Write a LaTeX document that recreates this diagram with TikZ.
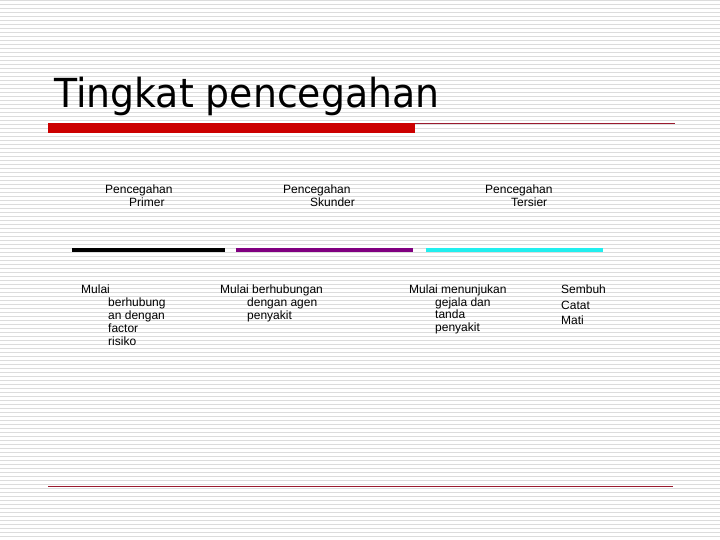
\documentclass[tikz,border=0pt]{standalone}
\usepackage{fontspec}
\setmainfont{Liberation Sans}
\newfontfamily\titlefont[FakeStretch=0.945]{DejaVu Sans}
\definecolor{bgline}{HTML}{DCDCDC}
\definecolor{barred}{HTML}{CC0000}
\definecolor{thinred}{HTML}{9A1A2E}
\definecolor{purplebar}{HTML}{800080}
\definecolor{cyanbar}{HTML}{22EEEE}
\tikzset{
  lbl/.style={anchor=base west, inner sep=0pt, font=\fontsize{12}{13}\selectfont, text=black},
  titletxt/.style={anchor=base west, inner sep=0pt, font=\titlefont\fontsize{40}{44}\selectfont},
  levelbar/.style={line width=4pt},
}
\begin{document}
\begin{tikzpicture}[x=1pt,y=-1pt]
\useasboundingbox (0,0) rectangle (720,540);
\fill[white] (0,0) rectangle (720,540);
\foreach \k in {0,...,134} {
  \fill[bgline] (0,{4*\k}) rectangle (720,{4*\k+1});
}
% title
\node[titletxt] (title) at (54,107.5) {Tingkat pencegahan};
\coordinate (tl1) at (415,123.5);
\coordinate (tl2) at (675,123.5);
\fill[barred] (48,123) rectangle (415,133);
\draw[thinred, line width=1pt] (tl1) -- (tl2);
% bottom line
\coordinate (bl1) at (48,486.5);
\coordinate (bl2) at (673,486.5);
\draw[thinred, line width=1.2pt] (bl1) -- (bl2);
% headings
\node[lbl] (h1a) at (105,193.3) {Pencegahan};
\node[lbl] (h1b) at (129,206.3) {Primer};
\node[lbl] (h2a) at (283,193.3) {Pencegahan};
\node[lbl] (h2b) at (310,206.3) {Skunder};
\node[lbl] (h3a) at (485,193.3) {Pencegahan};
\node[lbl] (h3b) at (511,206.3) {Tersier};
% bars
\coordinate (b1s) at (72,250);  \coordinate (b1e) at (225,250);
\coordinate (b2s) at (236,250); \coordinate (b2e) at (413,250);
\coordinate (b3s) at (426,250); \coordinate (b3e) at (603,250);
\draw[levelbar, black] (b1s) -- (b1e);
\draw[levelbar, purplebar] (b2s) -- (b2e);
\draw[levelbar, cyanbar] (b3s) -- (b3e);
% lower texts
\node[lbl] (m1a) at (81,293.3) {Mulai};
\node[lbl] (m1b) at (108,306.5) {berhubung};
\node[lbl] (m1c) at (108,319.5) {an dengan};
\node[lbl] (m1d) at (108,332.5) {factor};
\node[lbl] (m1e) at (108,345.3) {risiko};
\node[lbl] (m2a) at (220,293.3) {Mulai berhubungan};
\node[lbl] (m2b) at (247,306.5) {dengan agen};
\node[lbl] (m2c) at (247,319.5) {penyakit};
\node[lbl] (m3a) at (409,293.3) {Mulai menunjukan};
\node[lbl] (m3b) at (435,306) {gejala dan};
\node[lbl] (m3c) at (435,318.5) {tanda};
\node[lbl] (m3d) at (435,331) {penyakit};
\node[lbl] (o1) at (561,293) {Sembuh};
\node[lbl] (o2) at (561,309) {Catat};
\node[lbl] (o3) at (561,324.5) {Mati};
\end{tikzpicture}
\end{document}
